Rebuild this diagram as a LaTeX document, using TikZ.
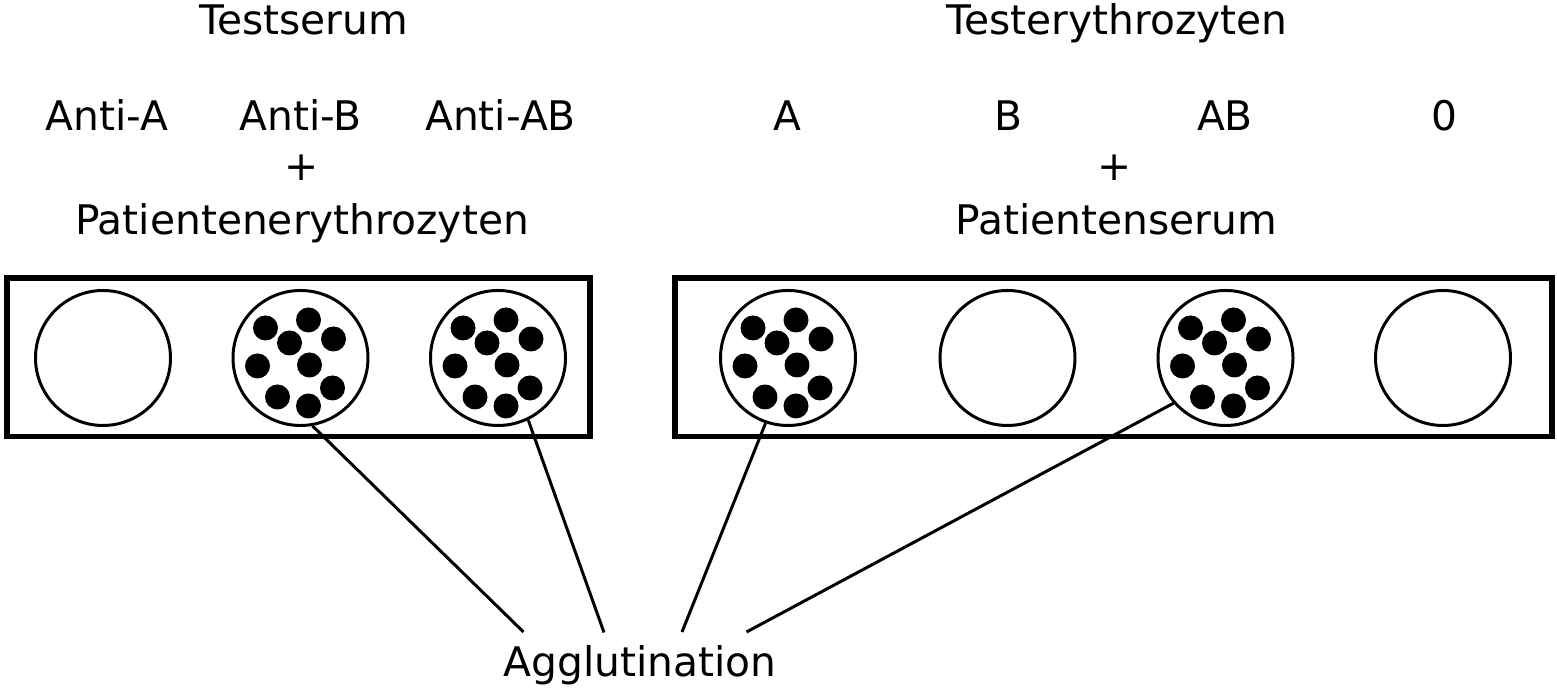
\documentclass[tikz,border=0pt]{standalone}
\usepackage{fontspec}
\setmainfont{DejaVu Sans}

\begin{document}
\begin{tikzpicture}[well/.style={draw,circle,line width=1.7pt,minimum size=2.7cm,inner sep=0pt},
  txt/.style={anchor=base,inner sep=0pt,font=\fontsize{23.2}{28}\selectfont},
  plate/.style={line width=3.1pt},
  link/.style={line width=1.7pt}]
  \useasboundingbox (0,0) rectangle (31.14,13.78);
  % Testserum + Patientenerythrozyten
  \node[txt] (testserum) at (6.07,13.08) {Testserum};
  \node[txt] (antiA) at (2.14,11.16) {Anti-A};
  \node[txt] (antiB) at (6.01,11.16) {Anti-B};
  \node[txt] (antiAB) at (10.01,11.16) {Anti-AB};
  \node[txt,anchor=center] (plusL) at (6.03,10.42) {+};
  \node[txt] (patEry) at (6.04,9.08) {Patientenerythrozyten};
  \draw[plate] (0.14,5.05) rectangle (11.8,8.22);
  \node[well] (sA) at (2.06,6.62) {};
  \node[well] (sB) at (6.01,6.62) {};
  \node[well] (sAB) at (9.96,6.62) {};
  % Testerythrozyten + Patientenserum
  \node[txt] (testEry) at (22.34,13.08) {Testerythrozyten};
  \node[txt] (ryA) at (15.74,11.16) {A};
  \node[txt] (ryB) at (20.16,11.16) {B};
  \node[txt] (ryAB) at (24.5,11.16) {AB};
  \node[txt] (ry0) at (28.89,11.16) {0};
  \node[txt,anchor=center] (plusR) at (22.3,10.42) {+};
  \node[txt] (patSer) at (22.32,9.08) {Patientenserum};
  \draw[plate] (13.5,5.05) rectangle (31.04,8.22);
  \node[well] (eA) at (15.76,6.62) {};
  \node[well] (eB) at (20.15,6.62) {};
  \node[well] (eAB) at (24.51,6.62) {};
  \node[well] (e0) at (28.86,6.62) {};
  % clumps
  \foreach \w in {sB,sAB,eA,eAB}
    \foreach \dx/\dy in {-0.70/0.60,0.16/0.76,-0.22/0.30,0.66/0.38,-0.86/-0.16,
                         0.18/-0.14,-0.46/-0.78,0.64/-0.60,0.16/-0.96}
      \fill ([shift={(\dx,\dy)}]\w.center) circle (0.25);
  % Agglutination
  \node[txt] (agg) at (12.8,0.24) {Agglutination};
  \coordinate (aggSB) at (10.47,1.14);
  \coordinate (aggSAB) at (12.08,1.13);
  \coordinate (aggEA) at (13.64,1.14);
  \coordinate (aggEAB) at (14.93,1.14);
  \draw[link] (sB.-80) -- (aggSB);
  \draw[link] (sAB.-64) -- (aggSAB);
  \draw[link] (eA.-109) -- (aggEA);
  \draw[link] (eAB.-139) -- (aggEAB);
\end{tikzpicture}
\end{document}
